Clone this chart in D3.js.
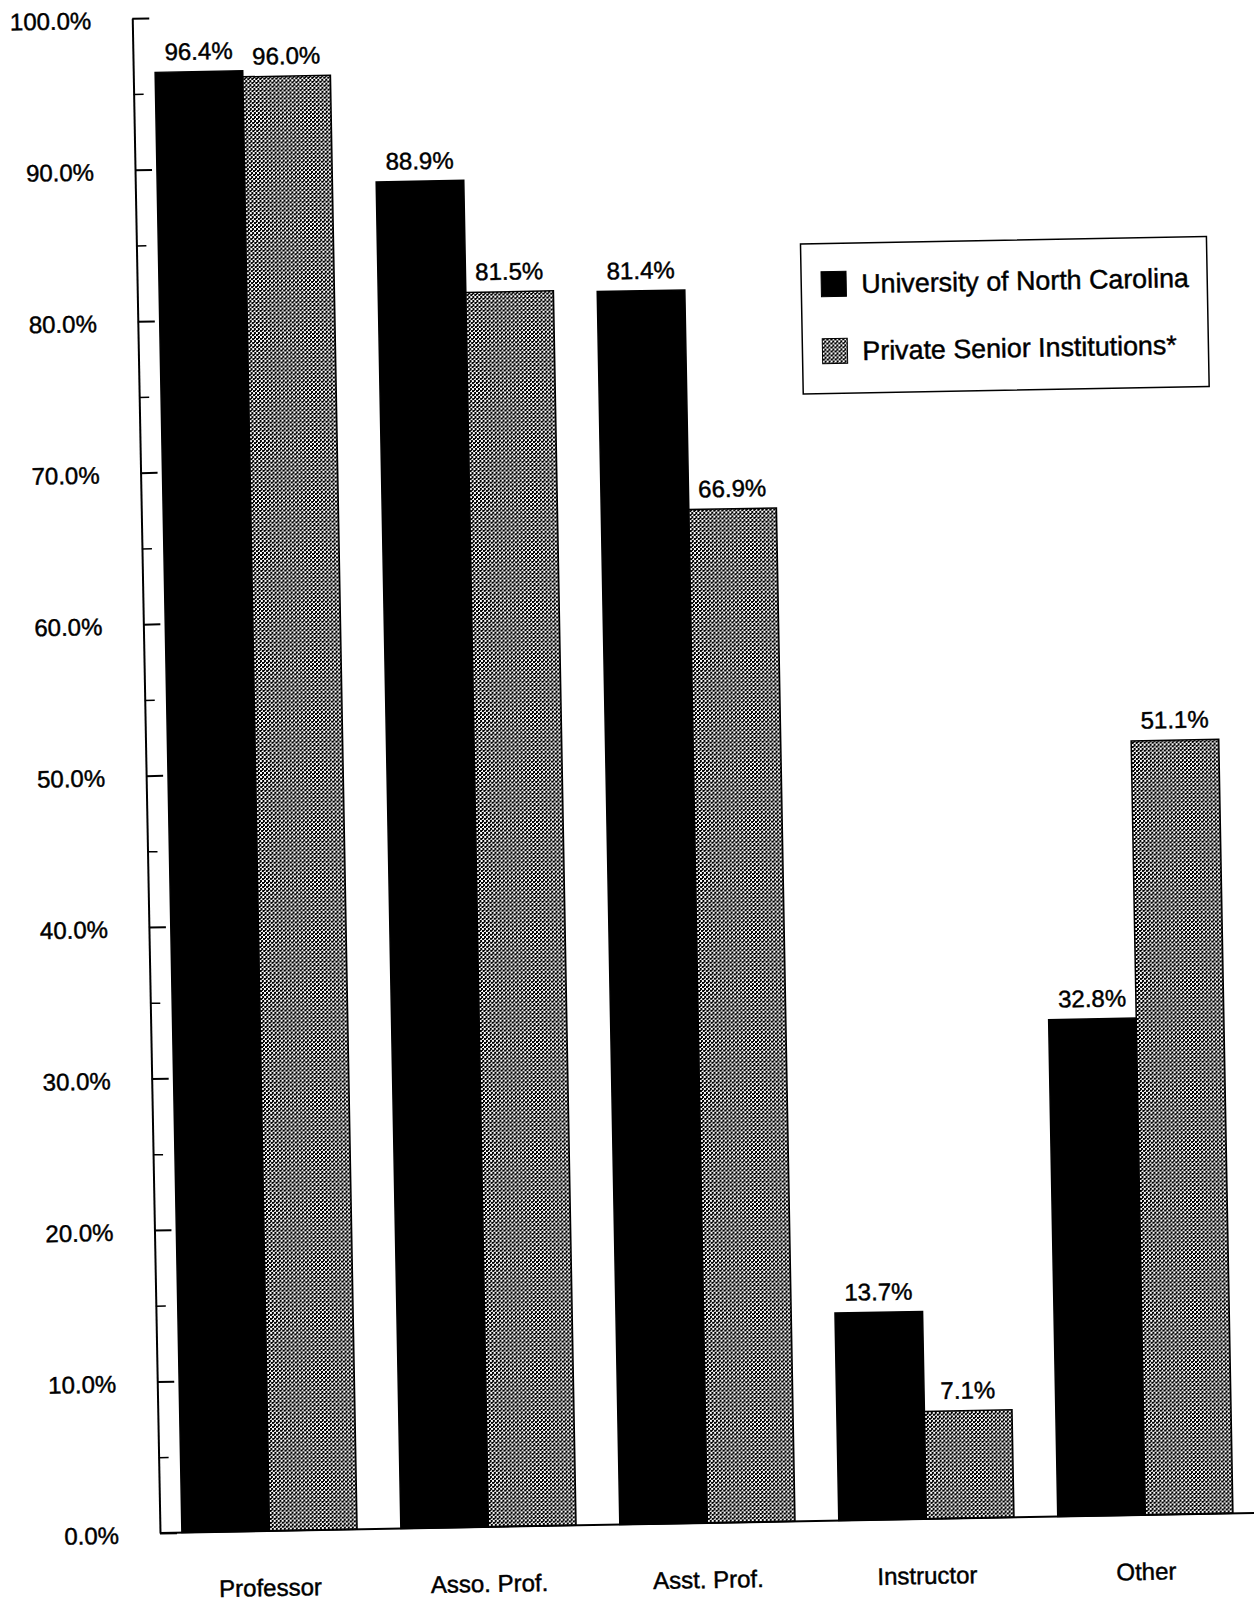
<!DOCTYPE html>
<html>
<head>
<meta charset="utf-8">
<script src="https://cdn.jsdelivr.net/npm/d3@7"></script>
<style>
  html, body { margin: 0; padding: 0; background: #fff; }
  svg { display: block; }
  text { font-family: "Liberation Sans", Arial, Helvetica, sans-serif; fill: #000; stroke: #000; stroke-width: 0.45px; }
</style>
</head>
<body>
<svg id="chart" width="1254" height="1602"></svg>
<script>
const categories = ["Professor", "Asso. Prof.", "Asst. Prof.", "Instructor", "Other"];
const seriesNames = ["University of North Carolina", "Private Senior Institutions*"];
const uncValues = [96.4, 88.9, 81.4, 13.7, 32.8];
const privateValues = [96.0, 81.5, 66.9, 7.1, 51.1];
const majorTicks = [0, 10, 20, 30, 40, 50, 60, 70, 80, 90, 100];
const minorTicks = [5, 15, 25, 35, 45, 55, 65, 75, 85, 95];

const W = 1254, H = 1602;
const originX = 160, originY = 1533, topY = 18, rightX = 1262;
const tilt = -1.05;
const fontSize = 24;
const legendFont = 26.8;

const svg = d3.select("#chart");
svg.append("rect").attr("width", W).attr("height", H).attr("fill", "#fff");

const defs = svg.append("defs");
const pat = defs.append("pattern").attr("id", "halftone")
  .attr("width", 4).attr("height", 4).attr("patternUnits", "userSpaceOnUse");
pat.append("rect").attr("width", 4).attr("height", 4).attr("fill", "#fff");
pat.append("rect").attr("x", 0).attr("y", 0).attr("width", 2).attr("height", 2).attr("fill", "#000");
pat.append("rect").attr("x", 2).attr("y", 2).attr("width", 2).attr("height", 2).attr("fill", "#000");
pat.append("rect").attr("x", 2).attr("y", 0).attr("width", 1).attr("height", 1).attr("fill", "#000");

const fills = ["#000", "url(#halftone)"];

const g = svg.append("g")
  .attr("transform", `rotate(${tilt}, ${originX}, ${originY})`);

const y = d3.scaleLinear().domain([0, 100]).range([originY, topY]);
const x = d3.scaleBand().domain(categories).range([originX, originX + 5 * 219])
  .paddingInner(0.2).paddingOuter(0.1);
const xs = d3.scaleBand().domain(seriesNames).range([0, x.bandwidth()]).padding(0);

const rows = categories.map((c, i) => ({ cat: c, vals: [uncValues[i], privateValues[i]] }));

// bars
const grp = g.selectAll("g.cat").data(rows).enter().append("g")
  .attr("class", "cat")
  .attr("transform", d => `translate(${x(d.cat)},0)`);

grp.selectAll("rect").data(d => d.vals.map((v, k) => ({ v, k }))).enter().append("rect")
  .attr("x", d => xs(seriesNames[d.k]))
  .attr("y", d => y(d.v))
  .attr("width", xs.bandwidth())
  .attr("height", d => y(0) - y(d.v))
  .attr("fill", d => fills[d.k])
  .attr("stroke", "#000")
  .attr("stroke-width", 1.5);

grp.selectAll("text.val").data(d => d.vals.map((v, k) => ({ v, k }))).enter().append("text")
  .attr("class", "val")
  .attr("x", d => xs(seriesNames[d.k]) + xs.bandwidth() / 2)
  .attr("y", d => y(d.v) - 12)
  .attr("text-anchor", "middle")
  .attr("font-size", fontSize)
  .text(d => d.v.toFixed(1) + "%");

// y axis (ticks point inward)
const yAxis = d3.axisLeft(y).tickValues(majorTicks)
  .tickSizeInner(-17).tickSizeOuter(0).tickPadding(41)
  .tickFormat(d => d.toFixed(1) + "%");
const ya = g.append("g").attr("transform", `translate(${originX},0)`).call(yAxis);
ya.select(".domain").attr("stroke", "#000").attr("stroke-width", 2);
ya.selectAll(".tick line").attr("stroke", "#000").attr("stroke-width", 2);
ya.selectAll(".tick text").attr("font-size", fontSize)
  .attr("font-family", "Liberation Sans, Arial, sans-serif")
  .attr("dy", "0.4em");

const yMinor = d3.axisLeft(y).tickValues(minorTicks).tickSizeInner(-10).tickSizeOuter(0).tickFormat("");
const ym = g.append("g").attr("transform", `translate(${originX},0)`).call(yMinor);
ym.select(".domain").remove();
ym.selectAll(".tick line").attr("stroke", "#000").attr("stroke-width", 1.5);

// x axis baseline + category labels
const xAxis = d3.axisBottom(x).tickSize(0).tickPadding(48);
const xa = g.append("g").attr("transform", `translate(0,${originY})`).call(xAxis);
xa.select(".domain").remove();
xa.selectAll(".tick text").attr("font-size", fontSize)
  .attr("font-family", "Liberation Sans, Arial, sans-serif");
g.append("line").attr("x1", originX).attr("x2", rightX)
  .attr("y1", y(0)).attr("y2", y(0)).attr("stroke", "#000").attr("stroke-width", 2);

// legend
const lg = g.append("g").attr("transform", "translate(824,256)");
lg.append("rect").attr("width", 406).attr("height", 150)
  .attr("fill", "#fff").attr("stroke", "#000").attr("stroke-width", 1.5);
const li = lg.selectAll("g.item").data(seriesNames).enter().append("g")
  .attr("class", "item")
  .attr("transform", (d, i) => `translate(20,${28 + i * 67})`);
li.append("rect").attr("width", 25).attr("height", 25)
  .attr("fill", (d, i) => fills[i]).attr("stroke", "#000").attr("stroke-width", 1);
li.append("text").attr("x", 40).attr("y", 22).attr("font-size", legendFont).text(d => d);
</script>
</body>
</html>
